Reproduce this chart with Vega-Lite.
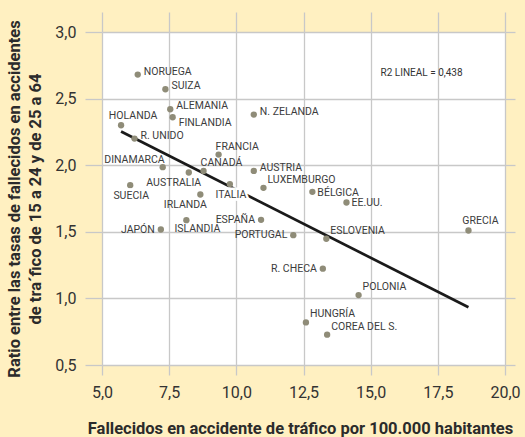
{
  "$schema": "https://vega.github.io/schema/vega-lite/v6.json",
  "width": 403,
  "height": 333,
  "autosize": "none",
  "padding": {"left": 102, "top": 32, "right": 20, "bottom": 72},
  "background": "#FFF0C1",
  "config": {"view": {"fill": "#FFFFFF", "stroke": null}},
  "datasets": {
    "paises": [
      {"pais": "NORUEGA", "fallecidos": 6.33, "ratio": 2.68},
      {"pais": "SUIZA", "fallecidos": 7.36, "ratio": 2.57},
      {"pais": "ALEMANIA", "fallecidos": 7.54, "ratio": 2.42},
      {"pais": "FINLANDIA", "fallecidos": 7.63, "ratio": 2.36},
      {"pais": "N. ZELANDA", "fallecidos": 10.65, "ratio": 2.38},
      {"pais": "HOLANDA", "fallecidos": 5.71, "ratio": 2.30},
      {"pais": "R. UNIDO", "fallecidos": 6.21, "ratio": 2.20},
      {"pais": "FRANCIA", "fallecidos": 9.34, "ratio": 2.08},
      {"pais": "DINAMARCA", "fallecidos": 7.26, "ratio": 1.985},
      {"pais": "AUSTRALIA", "fallecidos": 8.23, "ratio": 1.945},
      {"pais": "CANADÁ", "fallecidos": 8.78, "ratio": 1.957},
      {"pais": "AUSTRIA", "fallecidos": 10.65, "ratio": 1.957},
      {"pais": "SUECIA", "fallecidos": 6.05, "ratio": 1.85},
      {"pais": "ITALIA", "fallecidos": 9.76, "ratio": 1.858},
      {"pais": "IRLANDA", "fallecidos": 8.66, "ratio": 1.78},
      {"pais": "LUXEMBURGO", "fallecidos": 11.01, "ratio": 1.83},
      {"pais": "ESPAÑA", "fallecidos": 10.92, "ratio": 1.59},
      {"pais": "ISLANDIA", "fallecidos": 8.14, "ratio": 1.587},
      {"pais": "JAPÓN", "fallecidos": 7.19, "ratio": 1.517},
      {"pais": "PORTUGAL", "fallecidos": 12.12, "ratio": 1.475},
      {"pais": "BÉLGICA", "fallecidos": 12.83, "ratio": 1.80},
      {"pais": "EE.UU.", "fallecidos": 14.10, "ratio": 1.72},
      {"pais": "ESLOVENIA", "fallecidos": 13.35, "ratio": 1.448},
      {"pais": "GRECIA", "fallecidos": 18.64, "ratio": 1.51},
      {"pais": "R. CHECA", "fallecidos": 13.22, "ratio": 1.223},
      {"pais": "POLONIA", "fallecidos": 14.55, "ratio": 1.025},
      {"pais": "HUNGRÍA", "fallecidos": 12.59, "ratio": 0.82},
      {"pais": "COREA DEL S.", "fallecidos": 13.38, "ratio": 0.728}
    ],
    "nota": [
      {"texto": "R2 LINEAL = 0,438", "fallecidos": 15.37, "ratio": 2.69}
    ]
  },
  "data": {"name": "paises"},
  "resolve": {"axis": {"x": "independent", "y": "independent"}},
  "encoding": {
    "x": {"field": "fallecidos", "type": "quantitative", "scale": {"domain": [5, 20], "nice": false, "zero": false}, "axis": null},
    "y": {"field": "ratio", "type": "quantitative", "scale": {"domain": [0.5, 3.0], "nice": false, "zero": false}, "axis": null}
  },
  "layer": [
    {
      "transform": [{"regression": "ratio", "on": "fallecidos"}],
      "mark": {"type": "line", "color": "#1A1A1A", "strokeWidth": 2.7},
      "encoding": {
        "x": {"field": "fallecidos", "type": "quantitative", "scale": {"domain": [5, 20], "nice": false, "zero": false},
          "axis": {"orient": "top", "values": [5, 7.5, 10, 12.5, 15, 17.5, 20], "grid": false, "domain": false, "labels": false, "title": null, "tickColor": "#C8C8C8", "tickWidth": 1.3, "tickSize": 20}},
        "y": {"field": "ratio", "type": "quantitative", "scale": {"domain": [0.5, 3.0], "nice": false, "zero": false},
          "axis": {"orient": "right", "values": [0.5, 1, 1.5, 2, 2.5, 3], "grid": false, "domain": false, "labels": false, "title": null, "tickColor": "#C8C8C8", "tickWidth": 1.3, "tickSize": 10}}
      }
    },
    {
      "mark": {"type": "circle", "color": "#8F8C78", "opacity": 1, "size": 40},
      "encoding": {
        "x": {"field": "fallecidos", "type": "quantitative", "scale": {"domain": [5, 20], "nice": false, "zero": false},
          "axis": {"orient": "bottom", "values": [5, 7.5, 10, 12.5, 15, 17.5, 20], "grid": true, "gridColor": "#C8C8C8", "gridWidth": 1.3, "domain": false,
            "tickColor": "#C8C8C8", "tickWidth": 1.3, "tickSize": 10, "labelPadding": 9, "labelFont": "Roboto", "labelFontSize": 16, "labelColor": "#333333",
            "labelExpr": "replace(format(datum.value, '.1f'), '.', ',')", "labelFlush": false, "labelOverlap": false,
            "title": "Fallecidos en accidente de tráfico por 100.000 habitantes", "titleFont": "Roboto", "titleFontSize": 16.5, "titleFontWeight": "bold",
            "titleColor": "#2B2B2B", "titleBaseline": "alphabetic", "titleY": 68, "titleX": 198, "titleAnchor": "middle"}},
        "y": {"field": "ratio", "type": "quantitative", "scale": {"domain": [0.5, 3.0], "nice": false, "zero": false},
          "axis": {"orient": "left", "values": [0.5, 1, 1.5, 2, 2.5, 3], "grid": true, "gridColor": "#C8C8C8", "gridWidth": 1.3, "domain": false,
            "tickColor": "#C8C8C8", "tickWidth": 1.3, "tickSize": 17, "labelPadding": 9, "labelFont": "Roboto", "labelFontSize": 16, "labelColor": "#333333",
            "labelExpr": "replace(format(datum.value, '.1f'), '.', ',')", "labelOverlap": false,
            "title": ["Ratio entre las tasas de fallecidos en accidentes", "de tra´fico de 15 a 24 y de 25 a 64"], "titleFont": "Roboto", "titleFontSize": 16.5,
            "titleFontWeight": "bold", "titleColor": "#2B2B2B", "titleLineHeight": 21, "titleAngle": -90, "titleBaseline": "bottom", "titleX": -80}}
      }
    },
    {
      "transform": [{"filter": {"field": "pais", "oneOf": ["NORUEGA", "SUIZA", "ALEMANIA", "R. UNIDO", "AUSTRIA", "N. ZELANDA"]}}],
      "mark": {"type": "text", "align": "left", "baseline": "middle", "dx": 6, "dy": -3, "font": "Roboto", "fontSize": 10.5, "color": "#3C3C3C"},
      "encoding": {"text": {"field": "pais"}}
    },
    {
      "transform": [{"filter": {"field": "pais", "oneOf": ["BÉLGICA", "EE.UU."]}}],
      "mark": {"type": "text", "align": "left", "baseline": "middle", "dx": 5, "dy": 1, "font": "Roboto", "fontSize": 10.5, "color": "#3C3C3C"},
      "encoding": {"text": {"field": "pais"}}
    },
    {
      "transform": [{"filter": {"field": "pais", "oneOf": ["FINLANDIA"]}}],
      "mark": {"type": "text", "align": "left", "baseline": "middle", "dx": 6, "dy": 6, "font": "Roboto", "fontSize": 10.5, "color": "#3C3C3C"},
      "encoding": {"text": {"field": "pais"}}
    },
    {
      "transform": [{"filter": {"field": "pais", "oneOf": ["LUXEMBURGO", "ESLOVENIA", "POLONIA", "HUNGRÍA", "COREA DEL S."]}}],
      "mark": {"type": "text", "align": "left", "baseline": "middle", "dx": 4, "dy": -8, "font": "Roboto", "fontSize": 10.5, "color": "#3C3C3C"},
      "encoding": {"text": {"field": "pais"}}
    },
    {
      "transform": [{"filter": {"field": "pais", "oneOf": ["ESPAÑA", "JAPÓN", "PORTUGAL", "R. CHECA"]}}],
      "mark": {"type": "text", "align": "right", "baseline": "middle", "dx": -6, "dy": 0, "font": "Roboto", "fontSize": 10.5, "color": "#3C3C3C"},
      "encoding": {"text": {"field": "pais"}}
    },
    {
      "transform": [{"filter": {"field": "pais", "oneOf": ["SUECIA", "ITALIA"]}}],
      "mark": {"type": "text", "align": "center", "baseline": "middle", "dx": 1, "dy": 11, "font": "Roboto", "fontSize": 10.5, "color": "#FFFFFF", "stroke": "#FFFFFF", "strokeWidth": 5},
      "encoding": {"text": {"field": "pais"}}
    },
    {
      "transform": [{"filter": {"field": "pais", "oneOf": ["SUECIA", "ITALIA"]}}],
      "mark": {"type": "text", "align": "center", "baseline": "middle", "dx": 1, "dy": 11, "font": "Roboto", "fontSize": 10.5, "color": "#3C3C3C"},
      "encoding": {"text": {"field": "pais"}}
    },
    {
      "transform": [{"filter": {"field": "pais", "oneOf": ["FRANCIA", "CANADÁ"]}}],
      "mark": {"type": "text", "align": "left", "baseline": "middle", "dx": -3, "dy": -7.5, "font": "Roboto", "fontSize": 10.5, "color": "#3C3C3C"},
      "encoding": {"text": {"field": "pais"}}
    },
    {
      "transform": [{"filter": {"field": "pais", "oneOf": ["HOLANDA", "GRECIA"]}}],
      "mark": {"type": "text", "align": "center", "baseline": "middle", "dx": 12, "dy": -9.5, "font": "Roboto", "fontSize": 10.5, "color": "#3C3C3C"},
      "encoding": {"text": {"field": "pais"}}
    },
    {
      "transform": [{"filter": {"field": "pais", "oneOf": ["DINAMARCA"]}}],
      "mark": {"type": "text", "align": "right", "baseline": "middle", "dx": 2, "dy": -7, "font": "Roboto", "fontSize": 10.5, "color": "#3C3C3C"},
      "encoding": {"text": {"field": "pais"}}
    },
    {
      "transform": [{"filter": {"field": "pais", "oneOf": ["AUSTRALIA", "IRLANDA"]}}],
      "mark": {"type": "text", "align": "center", "baseline": "middle", "dx": -15, "dy": 10, "font": "Roboto", "fontSize": 10.5, "color": "#3C3C3C"},
      "encoding": {"text": {"field": "pais"}}
    },
    {
      "transform": [{"filter": {"field": "pais", "oneOf": ["ISLANDIA"]}}],
      "mark": {"type": "text", "align": "center", "baseline": "middle", "dx": 11, "dy": 9, "font": "Roboto", "fontSize": 10.5, "color": "#3C3C3C"},
      "encoding": {"text": {"field": "pais"}}
    },
    {
      "data": {"name": "nota"},
      "mark": {"type": "text", "align": "left", "baseline": "middle", "font": "Roboto", "fontSize": 10, "color": "#333333"},
      "encoding": {"text": {"field": "texto"}}
    }
  ]
}
